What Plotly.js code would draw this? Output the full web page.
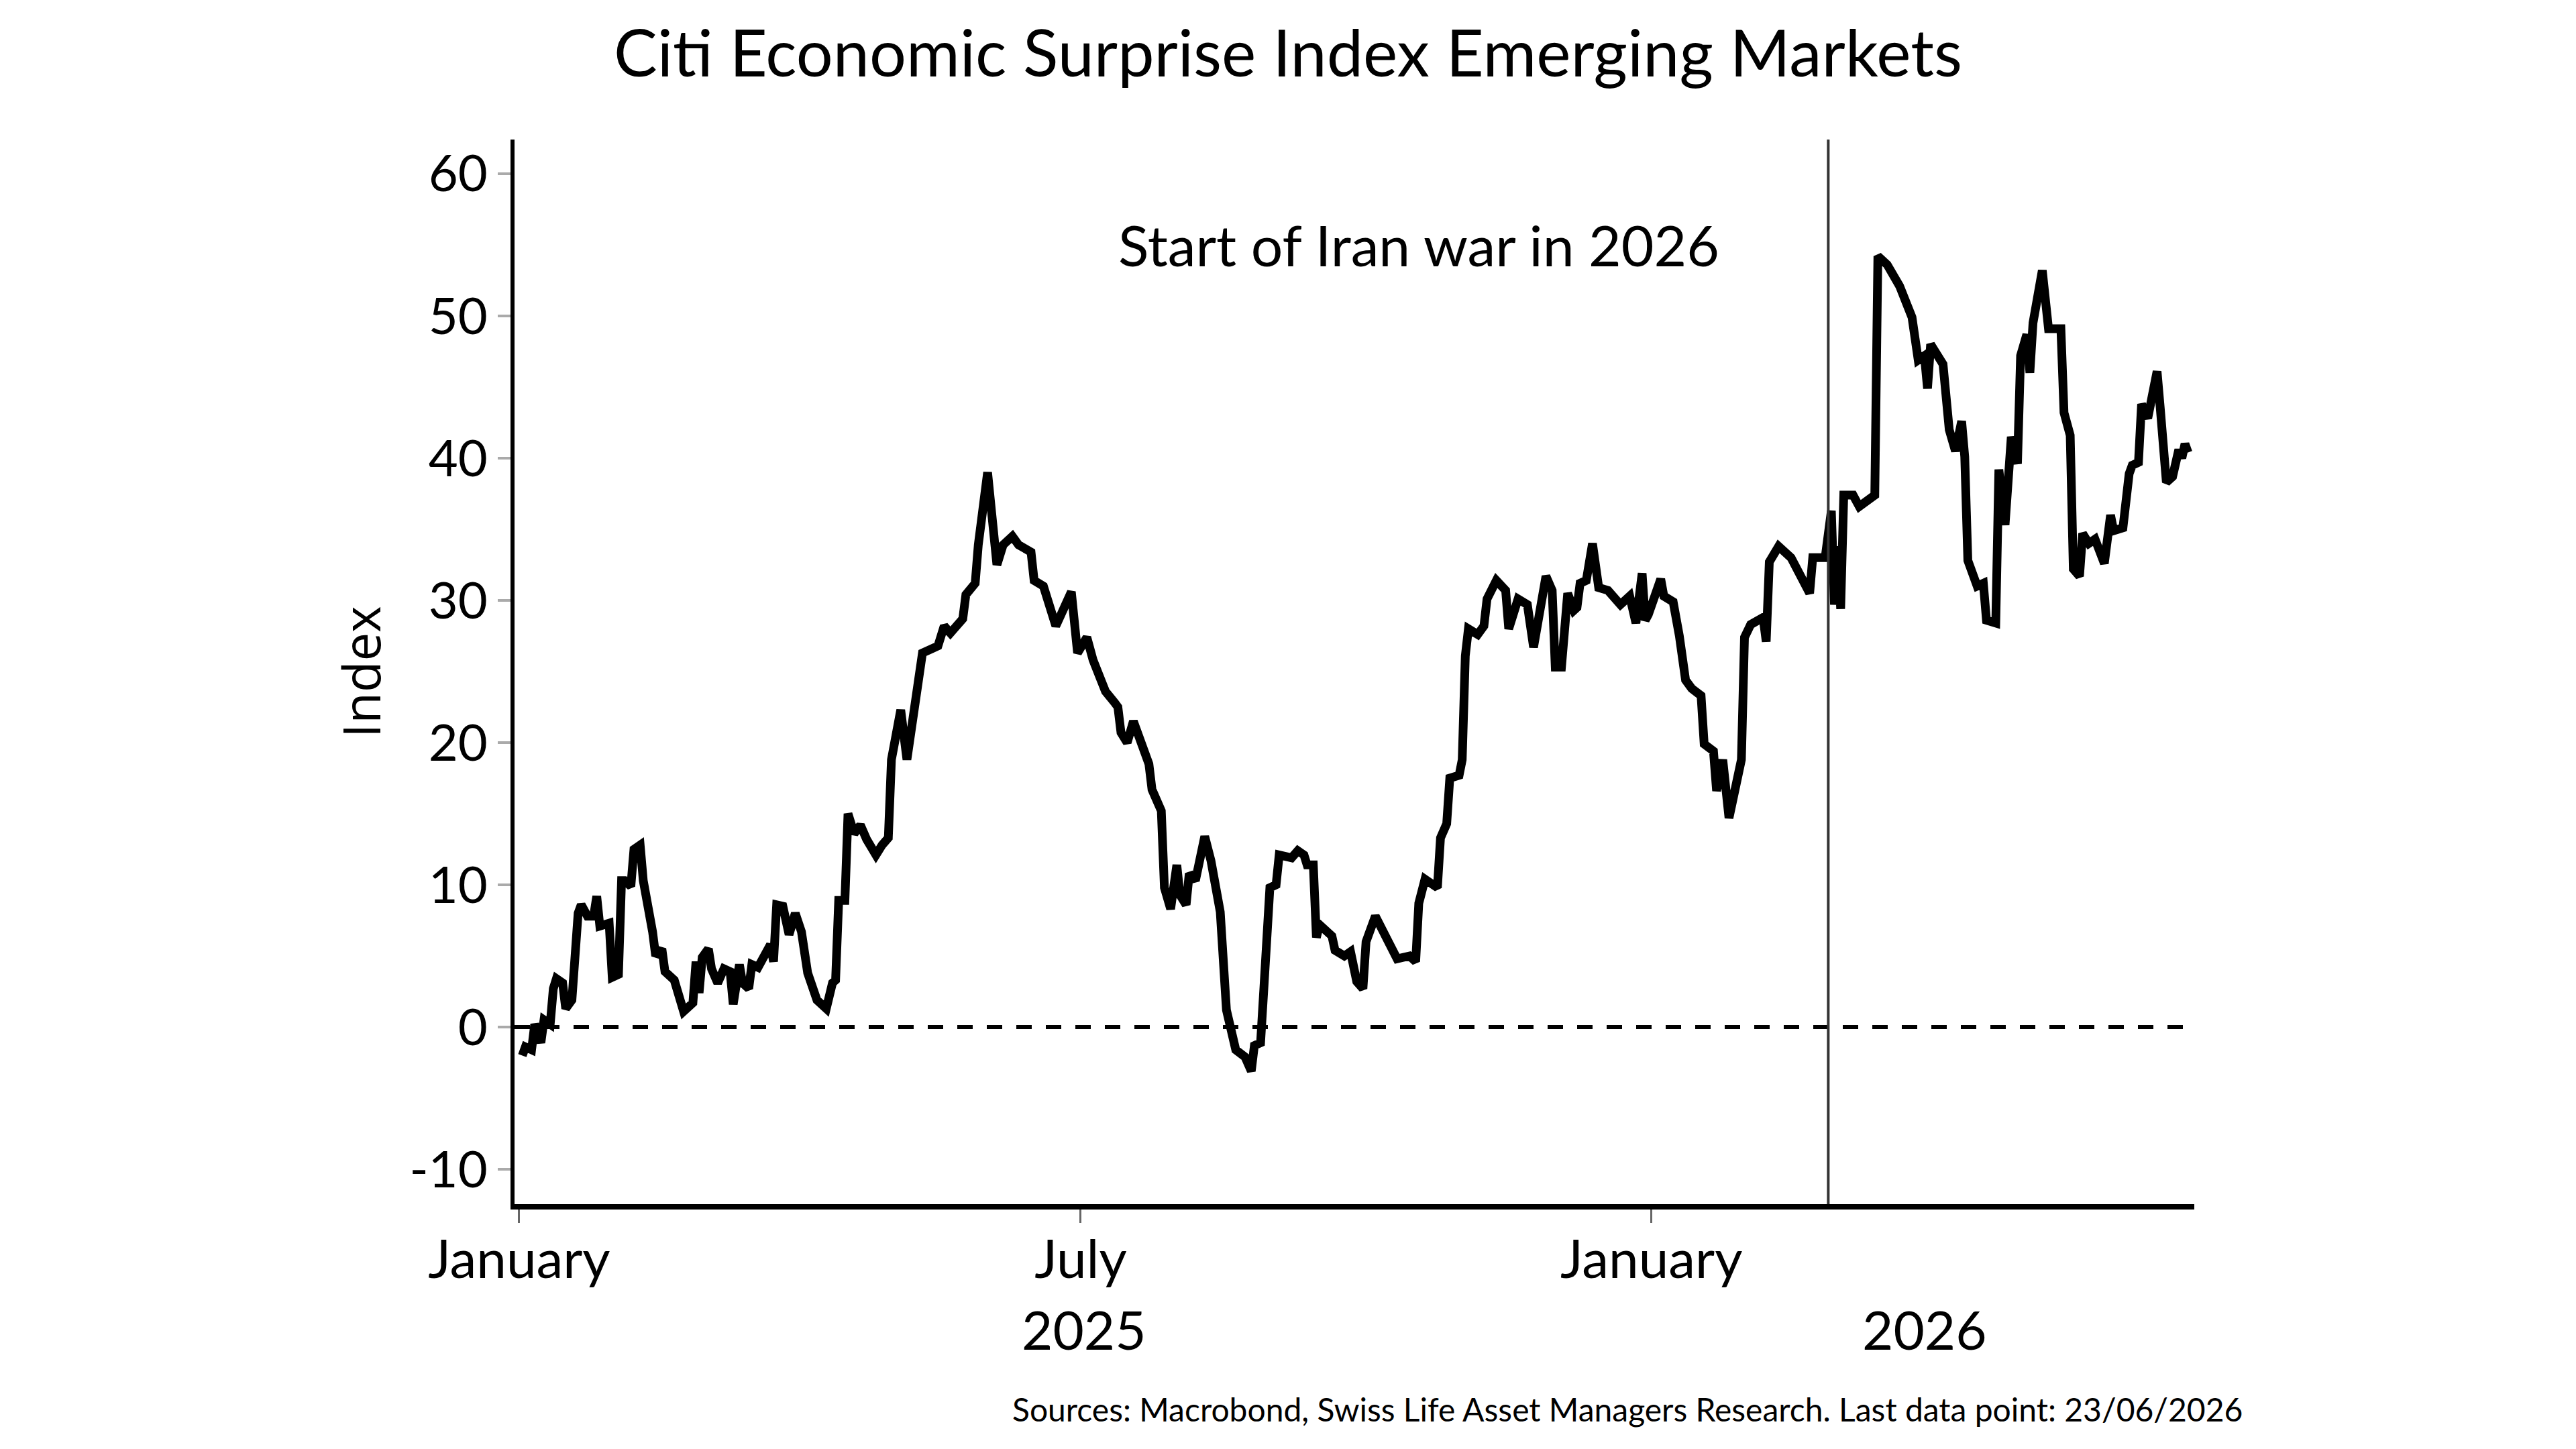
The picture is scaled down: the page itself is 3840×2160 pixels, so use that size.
<!DOCTYPE html>
<html>
<head>
<meta charset="utf-8">
<script src="https://cdn.plot.ly/plotly-3.0.1.min.js"></script>
<style>
  html, body { margin: 0; padding: 0; background: #fff; }
  #chart { width: 3840px; height: 2160px; }
</style>
</head>
<body>
<div id="chart"></div>
<script>
"use strict";

// Citi Economic Surprise Index, Emerging Markets
var dates = [
    "2025-01-02", "2025-01-03", "2025-01-05", "2025-01-06", "2025-01-07", "2025-01-08", "2025-01-09", "2025-01-11", "2025-01-12", "2025-01-13", "2025-01-15", "2025-01-16", "2025-01-18", "2025-01-20", "2025-01-21", "2025-01-23", "2025-01-25", "2025-01-26", "2025-01-27", "2025-01-30", "2025-01-31",
    "2025-02-02", "2025-02-03", "2025-02-04", "2025-02-06", "2025-02-07", "2025-02-09", "2025-02-10", "2025-02-13", "2025-02-14", "2025-02-16", "2025-02-17", "2025-02-20", "2025-02-23", "2025-02-26", "2025-02-27", "2025-02-28",
    "2025-03-01", "2025-03-03", "2025-03-04", "2025-03-06", "2025-03-08", "2025-03-10", "2025-03-11", "2025-03-13", "2025-03-14", "2025-03-16", "2025-03-17", "2025-03-19", "2025-03-21", "2025-03-23", "2025-03-24", "2025-03-25", "2025-03-27", "2025-03-29", "2025-03-31",
    "2025-04-02", "2025-04-04", "2025-04-07", "2025-04-10", "2025-04-12", "2025-04-13", "2025-04-14", "2025-04-16", "2025-04-17", "2025-04-19", "2025-04-21", "2025-04-23", "2025-04-26", "2025-04-28", "2025-04-30",
    "2025-05-01", "2025-05-04", "2025-05-06", "2025-05-09", "2025-05-11", "2025-05-14", "2025-05-16", "2025-05-18", "2025-05-20", "2025-05-24", "2025-05-25", "2025-05-28", "2025-05-29",
    "2025-06-01", "2025-06-04", "2025-06-06", "2025-06-09", "2025-06-11", "2025-06-15", "2025-06-16", "2025-06-19", "2025-06-23", "2025-06-25", "2025-06-28", "2025-06-30",
    "2025-07-03", "2025-07-05", "2025-07-09", "2025-07-12", "2025-07-13", "2025-07-14", "2025-07-16", "2025-07-18", "2025-07-21", "2025-07-23", "2025-07-24", "2025-07-27", "2025-07-28", "2025-07-30",
    "2025-08-01", "2025-08-02", "2025-08-04", "2025-08-05", "2025-08-07", "2025-08-10", "2025-08-12", "2025-08-15", "2025-08-17", "2025-08-20", "2025-08-23", "2025-08-25", "2025-08-26", "2025-08-28", "2025-08-29", "2025-08-31",
    "2025-09-02", "2025-09-03", "2025-09-07", "2025-09-09", "2025-09-11", "2025-09-12", "2025-09-14", "2025-09-15", "2025-09-16", "2025-09-20", "2025-09-21", "2025-09-24", "2025-09-26", "2025-09-28", "2025-09-30",
    "2025-10-01", "2025-10-04", "2025-10-07", "2025-10-11", "2025-10-15", "2025-10-17", "2025-10-18", "2025-10-20", "2025-10-24", "2025-10-25", "2025-10-27", "2025-10-28", "2025-10-31",
    "2025-11-01", "2025-11-02", "2025-11-03", "2025-11-06", "2025-11-08", "2025-11-09", "2025-11-12", "2025-11-15", "2025-11-16", "2025-11-19", "2025-11-22", "2025-11-24", "2025-11-28", "2025-11-30",
    "2025-12-01", "2025-12-03", "2025-12-05", "2025-12-07", "2025-12-08", "2025-12-09", "2025-12-11", "2025-12-13", "2025-12-15", "2025-12-18", "2025-12-20", "2025-12-22", "2025-12-25", "2025-12-27", "2025-12-29", "2025-12-30", "2025-12-31",
    "2026-01-04", "2026-01-05", "2026-01-08", "2026-01-10", "2026-01-12", "2026-01-14", "2026-01-17", "2026-01-18", "2026-01-21", "2026-01-22", "2026-01-24", "2026-01-26", "2026-01-28", "2026-01-30", "2026-01-31",
    "2026-02-02", "2026-02-06", "2026-02-07", "2026-02-08", "2026-02-11", "2026-02-15", "2026-02-21", "2026-02-22", "2026-02-26", "2026-02-28",
    "2026-03-01", "2026-03-02", "2026-03-03", "2026-03-04", "2026-03-07", "2026-03-09", "2026-03-14", "2026-03-15", "2026-03-18", "2026-03-22", "2026-03-26", "2026-03-28", "2026-03-30", "2026-03-31",
    "2026-04-01", "2026-04-05", "2026-04-07", "2026-04-09", "2026-04-11", "2026-04-12", "2026-04-13", "2026-04-16", "2026-04-18", "2026-04-19", "2026-04-22", "2026-04-23", "2026-04-25", "2026-04-27", "2026-04-29", "2026-04-30",
    "2026-05-02", "2026-05-03", "2026-05-04", "2026-05-07", "2026-05-09", "2026-05-13", "2026-05-14", "2026-05-16", "2026-05-17", "2026-05-19", "2026-05-20", "2026-05-22", "2026-05-24", "2026-05-27", "2026-05-29", "2026-05-30",
    "2026-06-02", "2026-06-04", "2026-06-05", "2026-06-07", "2026-06-08", "2026-06-10", "2026-06-13", "2026-06-14", "2026-06-16", "2026-06-18", "2026-06-20", "2026-06-21", "2026-06-22", "2026-06-23"
];

var surprise = [
    -2.0, -1.4, -1.6, 0.2, -0.4, -1.1, 0.5, 0.2, 2.7, 3.4, 3.1, 1.3, 1.9, 8.0, 8.6, 7.8, 7.8, 9.2, 7.1, 7.3, 3.5,
    3.7, 10.3, 10.3, 9.9, 12.5, 12.8, 10.3, 6.7, 5.0, 5.5, 3.9, 3.3, 1.1, 1.7, 4.6, 2.4,
    4.9, 5.5, 4.1, 3.1, 4.1, 3.9, 1.6, 4.4, 3.1, 2.7, 4.4, 4.2, 4.9, 5.8, 4.6, 8.6, 8.5, 6.5, 8.0,
    6.7, 3.8, 1.9, 1.3, 3.1, 3.3, 8.9, 8.9, 15.0, 13.6, 14.2, 13.2, 12.1, 12.8, 13.3,
    18.8, 22.3, 18.8, 23.1, 26.3, 26.6, 26.8, 28.2, 27.7, 28.7, 30.4, 31.2, 33.9,
    39.0, 32.5, 33.9, 34.5, 33.9, 33.4, 31.4, 31.0, 28.2, 29.3, 30.6, 26.3,
    27.4, 25.8, 23.6, 22.8, 22.5, 20.7, 20.0, 21.5, 19.5, 18.5, 16.7, 15.2, 9.8, 8.3,
    11.4, 9.3, 8.6, 10.8, 10.3, 13.4, 11.7, 8.1, 1.2, -1.6, -2.1, -3.1, -1.3, -1.1, 2.5, 9.8,
    10.0, 12.1, 11.9, 12.4, 12.1, 11.4, 11.4, 6.3, 7.2, 6.4, 5.4, 5.0, 5.3, 3.2, 2.7,
    6.0, 7.8, 6.4, 4.8, 5.0, 4.6, 8.7, 10.4, 9.8, 13.3, 14.3, 17.5, 17.7,
    18.8, 26.1, 28.0, 27.6, 28.2, 30.1, 31.4, 30.7, 28.0, 30.1, 29.7, 26.7, 31.7, 30.7,
    25.3, 25.3, 30.5, 29.3, 29.5, 31.2, 31.4, 34.0, 30.9, 30.7, 30.3, 29.7, 30.3, 28.4, 31.9, 28.6, 29.0,
    31.5, 30.3, 29.9, 27.5, 24.4, 23.8, 23.3, 19.9, 19.4, 16.6, 18.8, 14.7, 17.1, 18.8, 27.4,
    28.3, 28.8, 27.1, 32.7, 33.8, 33.0, 30.5, 33.0, 33.0, 36.3,
    29.7, 33.8, 29.4, 37.4, 37.4, 36.6, 37.4, 54.2, 53.6, 52.1, 49.9, 46.9, 47.2, 44.9,
    48.0, 46.6, 42.0, 40.5, 42.6, 40.1, 32.8, 31.0, 31.2, 28.6, 28.4, 39.2, 35.3, 41.5, 39.6, 47.2,
    48.7, 46.0, 49.5, 53.2, 49.1, 49.1, 43.2, 41.6, 32.2, 31.7, 34.7, 34.0, 34.3, 32.6, 36.0, 34.9,
    35.1, 38.9, 39.5, 39.7, 43.8, 42.8, 46.1, 43.6, 38.3, 38.7, 40.6, 40.0, 41.0, 40.4
];

var monthTicks = ["2025-01-01", "2025-07-01", "2026-01-01"];
var monthLabels = ["January", "July", "January"];
var yTicks = [-10, 0, 10, 20, 30, 40, 50, 60];
var yLabels = ["-10", "0", "10", "20", "30", "40", "50", "60"];
var yearLabels = ["2025", "2026"];
var yearCentres = ["2025-07-02", "2026-03-30"];
var warDate = "2026-02-27";
var warLabel = "Start of Iran war in 2026";
var sourceNote = "Sources: Macrobond, Swiss Life Asset Managers Research. Last data point: 23/06/2026";

var mainFont = "Lato, 'Open Sans', sans-serif";

var trace = {
    x: dates,
    y: surprise,
    type: "scatter",
    mode: "lines",
    line: { color: "#000000", width: 13 },
    hoverinfo: "skip"
};

var annotations = [{
    x: warDate, y: 55, xref: "x", yref: "y",
    xanchor: "right", yanchor: "middle", xshift: -160,
    text: warLabel, showarrow: false,
    font: { family: mainFont, size: 84, color: "#000" }
}, {
    x: 1.0296, y: 0, xref: "paper", yref: "paper",
    xanchor: "right", yanchor: "middle", yshift: -305,
    text: sourceNote, showarrow: false,
    font: { family: mainFont, size: 48, color: "#000" }
}];
for (var i = 0; i < yearLabels.length; i++) {
    annotations.push({
        x: yearCentres[i], y: 0, xref: "x", yref: "paper",
        xanchor: "center", yanchor: "middle", yshift: -186,
        text: yearLabels[i], showarrow: false,
        font: { family: mainFont, size: 80, color: "#000" }
    });
}

var layout = {
    width: 3840,
    height: 2160,
    paper_bgcolor: "#ffffff",
    plot_bgcolor: "#ffffff",
    margin: { l: 767, r: 569, t: 208, b: 365, pad: 0 },
    showlegend: false,
    title: {
        text: "Citi Economic Surprise Index Emerging Markets",
        font: { family: mainFont, size: 97, color: "#000" },
        x: 0.5, xanchor: "center",
        y: 0.963, yanchor: "middle", yref: "container"
    },
    xaxis: {
        type: "date",
        range: ["2024-12-30 12:00", "2026-06-25"],
        showgrid: false,
        zeroline: false,
        showline: true,
        linecolor: "#000",
        linewidth: 8,
        ticks: "outside",
        ticklen: 20,
        tickwidth: 3,
        tickcolor: "#666",
        ticklabelstandoff: -14,
        tickvals: monthTicks,
        ticktext: monthLabels,
        tickfont: { family: mainFont, size: 80, color: "#000" }
    },
    yaxis: {
        range: [-12.45, 62.4],
        showgrid: false,
        zeroline: false,
        showline: true,
        linecolor: "#000",
        linewidth: 6,
        ticks: "outside",
        ticklen: 19,
        tickwidth: 4,
        tickcolor: "#aaa",
        tickvals: yTicks,
        ticktext: yLabels,
        tickfont: { family: mainFont, size: 76, color: "#000" },
        title: {
            text: "Index",
            font: { family: "'Open Sans', sans-serif", size: 76, color: "#000" },
            standoff: 20
        }
    },
    shapes: [{
        // zero reference line
        type: "line", xref: "paper", x0: 0, x1: 1, yref: "y", y0: 0, y1: 0,
        line: { color: "#000", width: 6, dash: "23px,21px" },
        layer: "below"
    }, {
        type: "line", xref: "x", x0: warDate, x1: warDate, yref: "paper", y0: 0, y1: 1,
        line: { color: "#333", width: 4 }
    }],
    annotations: annotations
};

Plotly.newPlot("chart", [trace], layout, { staticPlot: true, displayModeBar: false });
</script>
</body>
</html>
